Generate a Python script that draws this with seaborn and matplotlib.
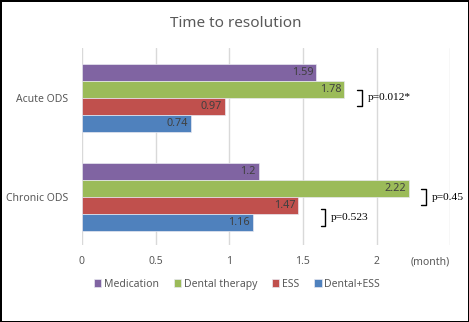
import matplotlib
matplotlib.use("Agg")
import matplotlib.pyplot as plt
import seaborn as sns
import pandas as pd

categories = ["Acute ODS", "Chronic ODS"]
treatments = ["Medication", "Dental therapy", "ESS", "Dental+ESS"]
medication = [1.59, 1.2]
dental = [1.78, 2.22]
ess = [0.97, 1.47]
dental_ess = [0.74, 1.16]
xticks = [0, 0.5, 1, 1.5, 2]
xtick_labels = ["0", "0.5", "1", "1.5", "2"]
colors = ["#8064A2", "#9BBB59", "#C0504D", "#4F81BD"]

rows = []
for series, name in zip([medication, dental, ess, dental_ess], treatments):
    for cat, v in zip(categories, series):
        rows.append({"cat": cat, "treatment": name, "value": v})
df = pd.DataFrame(rows)

sns.set_theme(style="white")
plt.rcParams["font.family"] = ["Noto Sans", "DejaVu Sans"]

fig = plt.figure(figsize=(4.69, 3.22), dpi=100)
fig.patch.set_edgecolor("black")
fig.patch.set_linewidth(2)
ax = fig.add_axes([0.1748, 0.239, 0.785, 0.612])

sns.barplot(data=df, y="cat", x="value", hue="treatment", hue_order=treatments,
            order=categories, palette=colors, orient="h", width=0.68,
            saturation=1, ax=ax, legend=True, edgecolor="#E8E8F0", linewidth=0.5)

for container in ax.containers:
    for patch in container:
        w = patch.get_width()
        y = patch.get_y() + patch.get_height() / 2
        ax.text(w - 0.02, y, f"{w:g}", ha="right", va="center",
                fontsize=7.8, color="#404040")

ax.set_xlim(0, 2.5)
ax.set_ylim(1.485, -0.505)
ax.set_xticks(xticks + [2.5])
ax.set_xticklabels(xtick_labels + [""])
ax.xaxis.grid(True, color="#D9D9D9", linewidth=1)
ax.set_axisbelow(True)
for s in ax.spines.values():
    s.set_visible(False)
ax.tick_params(axis="both", length=0, labelsize=7.5, colors="#595959")
ax.tick_params(axis="x", pad=8)
ax.tick_params(axis="y", pad=10)
ax.set_xlabel("")
ax.set_ylabel("")
ax.annotate("(month)", xy=(2.5, 0), xycoords=ax.get_xaxis_transform(),
            xytext=(0, -8), textcoords="offset points",
            ha="right", va="top", fontsize=7.5, color="#595959")

fig.text(0.503, 0.928, "Time to resolution", ha="center", va="center",
         fontsize=11, color="#595959")

handles, labels = ax.get_legend_handles_labels()
ax.legend_.remove()
fig.legend(handles, labels, loc="center", bbox_to_anchor=(0.505, 0.118),
           ncol=4, frameon=False, fontsize=7.5, handlelength=0.7,
           handleheight=0.7, handletextpad=0.25, columnspacing=1.45,
           labelcolor="#595959")

# significance brackets
serif = ["Liberation Serif", "DejaVu Serif"]
def bracket(x, y0, y1, label):
    ax.plot([x - 0.03, x, x, x - 0.03], [y0, y0, y1, y1], color="black", lw=1)
    ax.text(x + 0.04, (y0 + y1) / 2, label, ha="left", va="center",
            fontsize=8.2, color="black", family=serif)

bracket(1.90, -0.085, 0.085, "p=0.012*")
bracket(2.335, 0.915, 1.085, "p=0.45")
bracket(1.65, 1.12, 1.29, "p=0.523")

fig.savefig("out.png", dpi=100)
